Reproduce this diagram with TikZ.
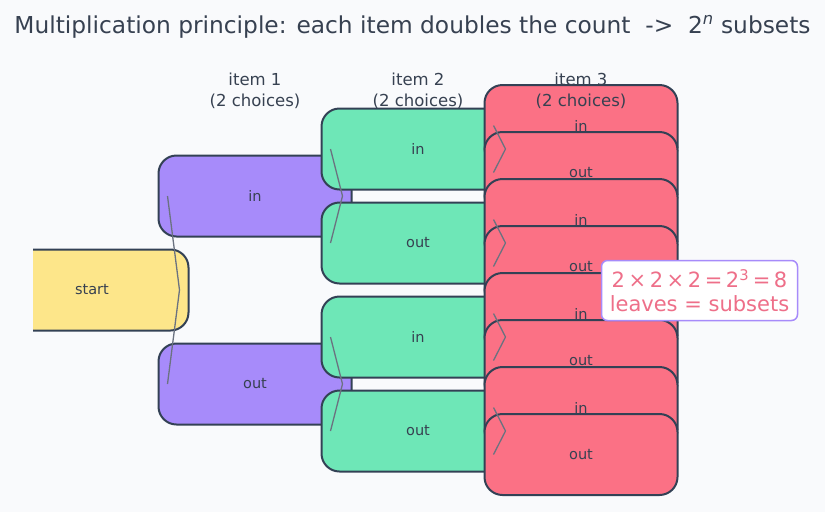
\documentclass[tikz,border=0pt]{standalone}
\usepackage{fontspec}
\setmainfont{DejaVu Sans}
\definecolor{bgc}{HTML}{F9FAFC}
\definecolor{edgec}{HTML}{334155}
\definecolor{txtc}{HTML}{374151}
\definecolor{linec}{HTML}{6B7280}
\definecolor{ystart}{HTML}{FDE68A}
\definecolor{vio}{HTML}{A78BFA}
\definecolor{grn}{HTML}{6EE7B7}
\definecolor{rose}{HTML}{FB7185}
\definecolor{notec}{HTML}{EE6F89}
\newcommand{\gp}{\hspace{0.17em}}
\begin{document}
\begin{tikzpicture}[x=1pt,y=-1pt,
  treebox/.style={draw=edgec, line width=2pt, rounded corners=18pt,
    minimum width=193pt, minimum height=81pt, inner sep=0pt,
    text=txtc, font=\fontsize{14.5}{17}\selectfont},
  conn/.style={draw=linec, line width=1.3pt},
  header/.style={text=txtc, align=center, font=\fontsize{16.5}{21}\selectfont},
  note/.style={draw=vio, line width=1.5pt, rounded corners=6pt, fill=white,
    text=notec, align=center, minimum width=196pt, minimum height=60pt,
    inner sep=2pt, font=\fontsize{21}{24}\selectfont}]
\fill[bgc] (0,0) rectangle (825,512);
\useasboundingbox (0,0) rectangle (825,512);
\node[text=txtc, font=\fontsize{23.3}{27}\selectfont] (title) at (412.5,27)
  {Multiplication principle: each item doubles the count~~->~~2\textsuperscript{\textit{n}} subsets};
% root, clipped at the left
\begin{scope}
\clip (33,0) rectangle (825,512);
\node[treebox, fill=ystart] (s) at (92,290) {start};
\end{scope}
% item 1
\node[treebox, fill=vio] (a1) at (255,196) {in};
\node[treebox, fill=vio] (a2) at (255,384) {out};
% item 2
\node[treebox, fill=grn] (b1) at (418,149) {in};
\node[treebox, fill=grn] (b2) at (418,243) {out};
\node[treebox, fill=grn] (b3) at (418,337) {in};
\node[treebox, fill=grn] (b4) at (418,431) {out};
% item 3
\node[treebox, fill=rose] (c1) at (581,125.5) {in};
\node[treebox, fill=rose] (c2) at (581,172.5) {out};
\node[treebox, fill=rose] (c3) at (581,219.5) {in};
\node[treebox, fill=rose] (c4) at (581,266.5) {out};
\node[treebox, fill=rose] (c5) at (581,313.5) {in};
\node[treebox, fill=rose] (c6) at (581,360.5) {out};
\node[treebox, fill=rose] (c7) at (581,407.5) {in};
\node[treebox, fill=rose] (c8) at (581,454.5) {out};
% headers
\node[header] (h1) at (255,90.5) {item 1\\(2 choices)};
\node[header] (h2) at (418,90.5) {item 2\\(2 choices)};
\node[header] (h3) at (581,90.5) {item 3\\(2 choices)};
% connectors
\foreach \p/\c in {s/a1,s/a2,a1/b1,a1/b2,a2/b3,a2/b4,b1/c1,b1/c2,b2/c3,b2/c4,b3/c5,b3/c6,b4/c7,b4/c8}
  \draw[conn] ([xshift=-10pt]\p.east) -- ([xshift=10pt]\c.west);
% annotation
\node[note] (n) at (699.5,290.5) {2\gp×\gp2\gp×\gp2\gp=\gp2\textsuperscript{3}\gp=\gp8\\leaves = subsets};
\end{tikzpicture}
\end{document}
